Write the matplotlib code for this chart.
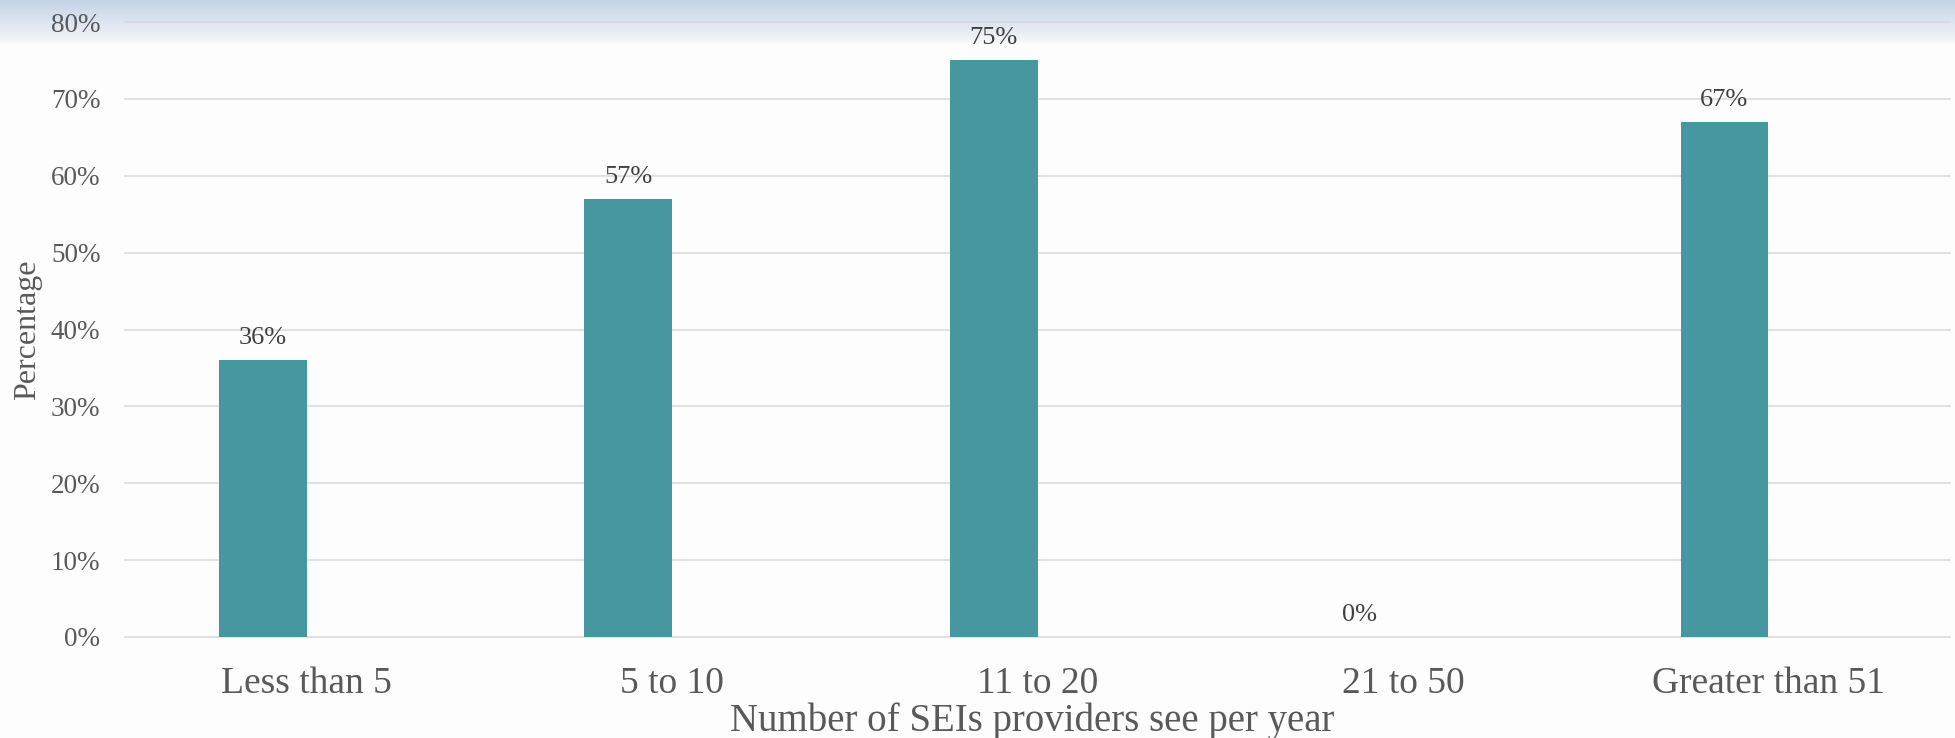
import numpy as np
import matplotlib.pyplot as plt

# chart data
categories = ["Less than 5", "5 to 10", "11 to 20", "21 to 50", "Greater than 51"]
values = [36, 57, 75, 0, 67]
y_ticks = [0, 10, 20, 30, 40, 50, 60, 70, 80]

bar_color = "#4697A0"
text_color = "#595959"
label_color = "#404040"
grid_color = "#D9D9D9"
font = "Liberation Serif"

W, H = 1955, 738
fig = plt.figure(figsize=(W / 100, H / 100), dpi=100)

# background: pale blue band fading to white at the top
bg = fig.add_axes([0, 0, 1, 1], zorder=0)
rows = np.arange(H)
t = np.clip(rows / 45.0, 0, 1)
top = np.array([198, 212, 232]) / 255.0
white = np.array([253, 253, 253]) / 255.0
col = top[None, :] * (1 - t[:, None]) ** 0.8 + white[None, :] * (1 - (1 - t[:, None]) ** 0.8)
img = np.repeat(col[:, None, :], 4, axis=1)
bg.imshow(img, aspect="auto", extent=[0, 1, 0, 1], origin="upper")
bg.set_axis_off()

# main axes, placed so 0% and 80% land on the reference pixel rows
px = 7.6875  # pixels per percent
ax_bottom = (H - (637 + 0.5 * px)) / H
ax_top = (H - (22 - 0.5 * px)) / H
ax_left = 124 / W
ax_right = 1951 / W
ax = fig.add_axes([ax_left, ax_bottom, ax_right - ax_left, ax_top - ax_bottom], zorder=1)
ax.patch.set_alpha(0)

x = np.arange(len(categories))
ax.set_xlim(-0.5, len(categories) - 0.5)
ax.set_ylim(-0.5, 80.5)

for v in y_ticks:
    ax.axhline(v, color=grid_color, lw=1.1, zorder=1)

# bar sits in the left half of its category slot (second series is empty)
bw = 0.24
bars = ax.bar(x - bw / 2, values, width=bw, color=bar_color, zorder=2)

for xi, v in zip(x, values):
    ax.annotate(f"{v}%", (xi - bw / 2, v), xytext=(0, 8), textcoords="offset points",
                ha="center", va="bottom", fontsize=19, family=font, color=label_color)

ax.set_yticks(y_ticks)
ax.set_yticklabels([f"{v}%" for v in y_ticks], fontsize=19.5, family=font, color=text_color)
ax.set_xticks(x)
ax.set_xticklabels(categories, fontsize=27, family=font, color=text_color)
ax.tick_params(axis="y", length=0, pad=17)
ax.tick_params(axis="x", length=0, pad=18.5)
for s in ax.spines.values():
    s.set_visible(False)

fig.text(28 / W, 1 - 330 / H, "Percentage", rotation=90, ha="center", va="center",
         fontsize=23, family=font, color=text_color)
fig.text(1032 / W, 1 - 731 / H, "Number of SEIs providers see per year", ha="center",
         va="baseline", fontsize=28, family=font, color=text_color)

fig.savefig("out.png", dpi=100)
